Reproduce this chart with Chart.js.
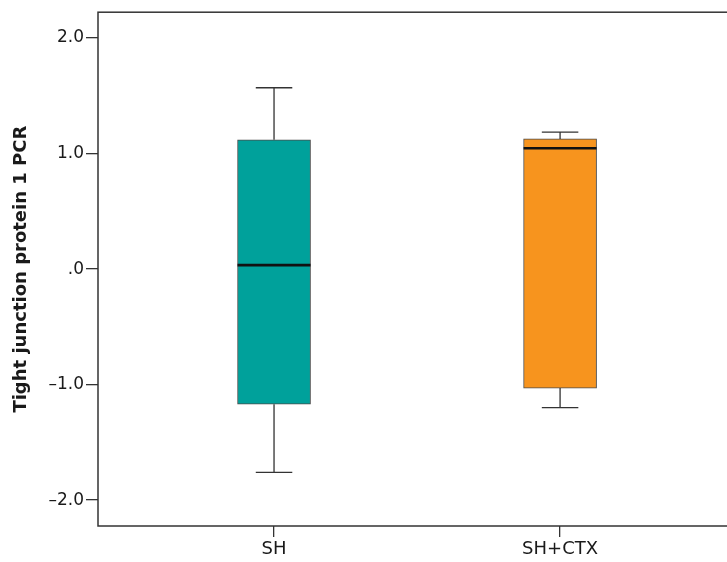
<!DOCTYPE html>
<html>
<head>
<meta charset="utf-8">
<script src="https://cdn.jsdelivr.net/npm/chart.js@4.4.1/dist/chart.umd.min.js"></script>
<style>
  html, body { margin: 0; padding: 0; background: #fff; overflow: hidden; }
  #wrap { width: 745px; height: 562px; }
</style>
</head>
<body>
<div id="wrap"><canvas id="chart" width="745" height="562"></canvas></div>
<script>
'use strict';

// ─── Datos ────────────────────────────────────────────────────────────────────

const groups      = ['SH', 'SH+CTX'];
const groupPos    = [1, 2];
const whiskerLow  = [-1.76, -1.20];
const quart1      = [-1.17, -1.03];
const medians     = [0.034, 1.046];
const quart3      = [1.12, 1.127];
const whiskerHigh = [1.57, 1.186];
const yTicks      = [2, 1, 0, -1, -2];
const yTickLabels = ['2.0', '1.0', '.0', '\u20131.0', '\u20132.0'];

// ─── Colores ──────────────────────────────────────────────────────────────────

const C = {
  boxes:  ['#00a19b', '#f7941e'],
  edge:   '#4a4a4a',
  axis:   '#333333',
  median: '#111111',
  text:   '#1a1a1a',
};

Chart.defaults.font.family = "'DejaVu Sans', sans-serif";
Chart.defaults.color = C.text;

// ─── Plugin: marco, bigotes y medianas ────────────────────────────────────────

const boxExtras = {
  id: 'boxExtras',
  afterDatasetsDraw(chart) {
    const ctx = chart.ctx;
    const xs = chart.scales.x, ys = chart.scales.y;
    const meta = chart.getDatasetMeta(0);
    ctx.save();
    groupPos.forEach(function(p, i) {
      const x = xs.getPixelForValue(p);
      const w = meta.data[i].width;
      const cap = w / 4;
      ctx.strokeStyle = C.axis;
      ctx.lineWidth = 1.3;
      ctx.beginPath();
      ctx.moveTo(x, ys.getPixelForValue(quart3[i]));
      ctx.lineTo(x, ys.getPixelForValue(whiskerHigh[i]));
      ctx.moveTo(x - cap, ys.getPixelForValue(whiskerHigh[i]));
      ctx.lineTo(x + cap, ys.getPixelForValue(whiskerHigh[i]));
      ctx.moveTo(x, ys.getPixelForValue(quart1[i]));
      ctx.lineTo(x, ys.getPixelForValue(whiskerLow[i]));
      ctx.moveTo(x - cap, ys.getPixelForValue(whiskerLow[i]));
      ctx.lineTo(x + cap, ys.getPixelForValue(whiskerLow[i]));
      ctx.stroke();
      // mediana
      ctx.strokeStyle = C.median;
      ctx.lineWidth = 2.6;
      ctx.beginPath();
      ctx.moveTo(x - w / 2, ys.getPixelForValue(medians[i]));
      ctx.lineTo(x + w / 2, ys.getPixelForValue(medians[i]));
      ctx.stroke();
    });
    // marco del area
    const a = chart.chartArea;
    ctx.strokeStyle = C.axis;
    ctx.lineWidth = 1.5;
    ctx.strokeRect(a.left, a.top, a.right - a.left, a.bottom - a.top);
    ctx.restore();
  },
};

// ─── Grafica ──────────────────────────────────────────────────────────────────

new Chart(document.getElementById('chart').getContext('2d'), {
  type: 'bar',
  data: {
    datasets: [{
      data: groupPos.map(function(p, i) { return { x: p, y: [quart1[i], quart3[i]] }; }),
      backgroundColor: C.boxes,
      borderColor: C.edge,
      borderWidth: 1,
      borderSkipped: false,
      barThickness: 73,
    }],
  },
  options: {
    responsive: false,
    animation: false,
    layout: { padding: { top: 10, right: 9, left: 0, bottom: 0 } },
    plugins: { legend: { display: false }, tooltip: { enabled: false } },
    scales: {
      x: {
        type: 'linear',
        min: 0.3846,
        max: 2.615,
        offset: false,
        border: { display: false },
        grid: { offset: false, drawOnChartArea: false, tickLength: 11, color: C.axis, lineWidth: 1.3 },
        afterBuildTicks: function(axis) { axis.ticks = groupPos.map(function(v) { return { value: v }; }); },
        afterFit: function(axis) { axis.height = 36; },
        ticks: {
          padding: 2,
          font: { size: 18 },
          color: C.text,
          callback: function(v) { return groups[groupPos.indexOf(v)]; },
        },
      },
      y: {
        min: -2.224,
        max: 2.224,
        border: { display: false },
        grid: { drawOnChartArea: false, tickLength: 12, color: C.axis, lineWidth: 1.3 },
        afterBuildTicks: function(axis) { axis.ticks = yTicks.map(function(v) { return { value: v }; }); },
        afterFit: function(axis) { axis.width = 98; },
        ticks: {
          padding: 2,
          font: { size: 17 },
          color: C.text,
          callback: function(v) { return yTickLabels[yTicks.indexOf(v)]; },
        },
        title: {
          display: true,
          text: 'Tight junction protein 1 PCR',
          font: { size: 18, weight: 'bold' },
          color: C.text,
          padding: { top: 11, bottom: 0 },
        },
      },
    },
  },
  plugins: [boxExtras],
});
</script>
</body>
</html>
